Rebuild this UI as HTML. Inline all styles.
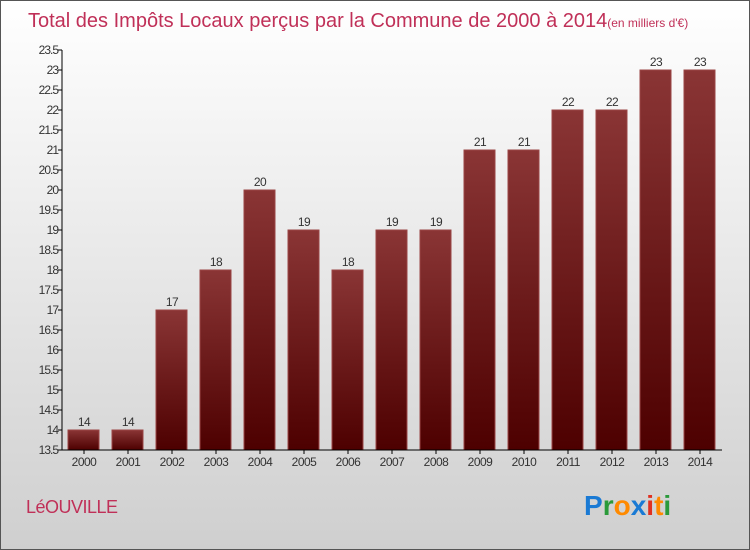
<!DOCTYPE html>
<html><head><meta charset="utf-8"><style>
body{margin:0}
#c{position:relative;width:748px;height:548px;border:1px solid #555;background:linear-gradient(#fff,#cfcfcf);font-family:"Liberation Sans",sans-serif;overflow:hidden}
</style></head><body>
<div id="c">
<svg width="748" height="548" id="s">
<defs><linearGradient id="g" x1="0" y1="0" x2="0" y2="1"><stop offset="0" stop-color="#8a3535"/><stop offset="1" stop-color="#4d0000"/></linearGradient></defs>
<text x="27" y="26" font-size="20" fill="#c03058">Total des Impôts Locaux perçus par la Commune de 2000 à 2014<tspan font-size="12">(en milliers d'€)</tspan></text>
<text x="25" y="512" font-size="18" fill="#c03058" letter-spacing="-0.5">LéOUVILLE</text>
<text x="583" y="514" font-size="28" font-weight="bold"><tspan fill="#1a7ad4">P</tspan><tspan fill="#2a9a3a">r</tspan><tspan fill="#ff8a00">o</tspan><tspan fill="#1a7ad4">x</tspan><tspan fill="#e03020">i</tspan><tspan fill="#ff8a00">t</tspan><tspan fill="#2a9a3a">i</tspan></text>
<g id="plot"></g>
</svg></div>
<script>
const years=["2000","2001","2002","2003","2004","2005","2006","2007","2008","2009","2010","2011","2012","2013","2014"];
const values=[14,14,17,18,20,19,18,19,19,21,21,22,22,23,23];
const yTicks=[13.5,14,14.5,15,15.5,16,16.5,17,17.5,18,18.5,19,19.5,20,20.5,21,21.5,22,22.5,23,23.5];
const NS="http://www.w3.org/2000/svg";
const g=document.getElementById('plot');
const X0=61,Y0=449,yMin=13.5,pxU=40,cw=44;
const y=v=>Y0-(v-yMin)*pxU;
const x=i=>X0+i*cw;
function mk(t,a,txt){const e=document.createElementNS(NS,t);for(const k in a)e.setAttribute(k,a[k]);if(txt!=null)e.textContent=txt;g.appendChild(e);return e;}
values.forEach((v,i)=>{
 const r=mk('rect',{x:x(i)+6,y:y(v),width:31,height:Y0-y(v),fill:'url(#g)',stroke:'#9a4545','stroke-width':1});
 
 
 const t=mk('text',{x:x(i)+22,y:y(v)-4,'font-size':12,'text-anchor':'middle',fill:'#333','letter-spacing':'-0.5'},v);
 
 
 const l=mk('text',{x:x(i)+22,y:Y0+16,'font-size':12,'text-anchor':'middle',fill:'#333','letter-spacing':'-0.5'},years[i]);
 
 
 mk('line',{x1:x(i)+22,x2:x(i)+22,y1:Y0,y2:Y0+4,stroke:'#000'});
});
yTicks.forEach(v=>{
 mk('line',{x1:X0-4,x2:X0,y1:y(v),y2:y(v),stroke:'#000'});
 const t=mk('text',{x:X0-4,y:y(v)+4,'font-size':12,'text-anchor':'end',fill:'#333','letter-spacing':'-1'},v);
 
 
});
const ya=mk('line',{x1:X0,x2:X0,y1:y(23.5),y2:Y0,stroke:'#000'});


const xa=mk('line',{x1:X0,x2:X0+cw*years.length,y1:Y0,y2:Y0,stroke:'#000'});


</script>
</body></html>
